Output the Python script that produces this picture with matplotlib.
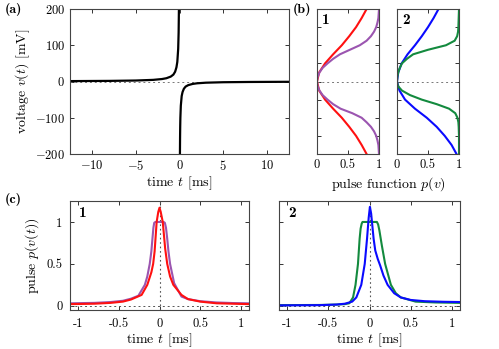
import matplotlib
matplotlib.use("Agg")
import matplotlib.pyplot as plt

plt.rcParams['font.family'] = 'serif'
plt.rcParams['font.serif'] = ['cmr10', 'DejaVu Serif']
plt.rcParams['mathtext.fontset'] = 'cm'
plt.rcParams['axes.unicode_minus'] = False
plt.rcParams['axes.formatter.use_mathtext'] = True
plt.rcParams['font.size'] = 9

# (a) voltage trace, two branches around the spike at t = 0
t_left = [-12.5, -8, -5, -3, -2, -1.5, -1, -0.7, -0.5, -0.35, -0.25, -0.15, -0.1, -0.07, -0.055]
v_left = [1.1, 1.7, 2.7, 4.5, 6.8, 9, 13.5, 19, 27, 39, 54, 90, 135, 193, 240]
t_right = [0.04, 0.05, 0.065, 0.08, 0.1, 0.15, 0.25, 0.35, 0.5, 0.7, 1, 1.5, 2, 3, 5, 8, 12.5]
v_right = [-250, -200, -154, -125, -100, -67, -40, -29, -20, -14, -10, -6.7, -5, -3.3, -2, -1.3, -0.8]

# (b) pulse functions p(v)
v_red = [-200, -175, -150, -125, -100, -75, -50, -25, 0, 25, 50, 75, 100, 125, 150, 175, 200]
p_red = [0.80, 0.72, 0.63, 0.52, 0.40, 0.26, 0.13, 0.035, 0, 0.035, 0.13, 0.26, 0.40, 0.52, 0.63, 0.72, 0.80]
v_purple = [-200, -187.5, -175, -162.5, -150, -137.5, -125, -112.5, -100, -87.5, -75, -62.5, -50, -37.5,
            -25, -12.5, 0, 12.5, 25, 37.5, 50, 62.5, 75, 87.5, 100, 112.5, 125, 137.5, 150, 162.5, 175,
            187.5, 200]
p_purple = [1.0, 0.995, 0.99, 0.975, 0.955, 0.92, 0.87, 0.80, 0.72, 0.57, 0.38, 0.26, 0.17, 0.09,
            0.04, 0.01, 0, 0.01, 0.04, 0.09, 0.17, 0.26, 0.37, 0.53, 0.69, 0.80, 0.87, 0.92, 0.955, 0.975,
            0.99, 0.995, 1.0]
v_blue = [-200, -175, -150, -125, -100, -75, -50, -25, 0, 25, 50, 75, 100, 125, 150, 175, 200]
p_blue = [0.96, 0.88, 0.77, 0.64, 0.48, 0.29, 0.13, 0.04, 0, 0.02, 0.075, 0.17, 0.29, 0.40, 0.50, 0.59, 0.67]
v_green = [-200, -150, -125, -112.5, -100, -87.5, -75, -62.5, -50, -37.5, -25, -12.5, 0, 12.5, 25,
           37.5, 50, 62.5, 75, 87.5, 100, 112.5, 125, 137.5, 150, 175, 200]
p_green = [1.0, 1.0, 0.995, 0.99, 0.975, 0.94, 0.84, 0.64, 0.40, 0.21, 0.08, 0.015, 0, 0.005, 0.02,
           0.045, 0.08, 0.16, 0.26, 0.50, 0.79, 0.93, 0.97, 0.985, 0.99, 0.995, 1.0]

# (c) pulse as function of time
t_red_c = [-1.1, -0.8, -0.6, -0.45, -0.35, -0.22, -0.15, -0.1, -0.078, -0.06, -0.035, -0.015, 0,
           0.015, 0.04, 0.07, 0.095, 0.13, 0.17, 0.27, 0.35, 0.5, 0.7, 0.9, 1.1]
p_red_c = [0.02, 0.025, 0.035, 0.05, 0.075, 0.13, 0.25, 0.40, 0.5, 0.65, 1.0, 1.12, 1.17,
           1.12, 1.0, 0.68, 0.5, 0.35, 0.25, 0.13, 0.08, 0.05, 0.03, 0.025, 0.02]
t_purple_c = [-1.1, -0.8, -0.6, -0.45, -0.35, -0.26, -0.18, -0.15, -0.12, -0.1, -0.085, -0.075, -0.065,
              -0.05, 0.05, 0.066, 0.08, 0.095, 0.11, 0.13, 0.18, 0.27, 0.35, 0.5, 0.7, 0.9, 1.1]
p_purple_c = [0.03, 0.035, 0.045, 0.06, 0.085, 0.12, 0.25, 0.35, 0.5, 0.65, 0.82, 0.93, 0.99,
              1.0, 1.0, 0.99, 0.93, 0.8, 0.65, 0.5, 0.27, 0.11, 0.08, 0.055, 0.04, 0.033, 0.03]
t_blue_c = [-1.1, -0.6, -0.4, -0.3, -0.21, -0.16, -0.1, -0.058, -0.03, -0.01, 0.005, 0.02, 0.03,
            0.05, 0.07, 0.1, 0.13, 0.17, 0.22, 0.3, 0.38, 0.5, 0.67, 0.9, 1.1]
p_blue_c = [0.005, 0.008, 0.015, 0.025, 0.05, 0.1, 0.25, 0.5, 0.8, 1.05, 1.18, 1.1, 1.0,
            0.8, 0.66, 0.56, 0.48, 0.36, 0.25, 0.15, 0.1, 0.07, 0.055, 0.048, 0.045]
t_green_c = [-1.1, -0.6, -0.4, -0.3, -0.245, -0.2, -0.17, -0.14, -0.12, -0.108, -0.095, -0.085,
             0.09, 0.105, 0.12, 0.15, 0.19, 0.26, 0.32, 0.38, 0.56, 0.8, 1.1]
p_green_c = [0.008, 0.01, 0.015, 0.02, 0.03, 0.1, 0.25, 0.5, 0.8, 0.92, 0.98, 1.0,
             1.0, 0.97, 0.9, 0.72, 0.5, 0.25, 0.15, 0.1, 0.05, 0.04, 0.035]

RED = '#ff1010'
PURPLE = '#9b55b0'
BLUE = '#0a0aff'
GREEN = '#138a3e'
W, H = 499, 349
BOLD = ['cmb10', 'DejaVu Serif']


def box(l, t, r, b):
    return [l / W, 1 - b / H, (r - l) / W, (b - t) / H]


def style(ax, pad=3.5):
    ax.tick_params(direction='in', top=True, right=True, length=3, width=0.7,
                   colors='#333333', labelcolor='black', labelsize=9, pad=pad)
    for s in ax.spines.values():
        s.set_color('#444444')
        s.set_linewidth(0.8)


fig = plt.figure(figsize=(W / 100, H / 100), dpi=100)

# panel (a)
ax = fig.add_axes(box(70, 9, 289, 154))
ax.axhline(0, color='#777777', ls=(0, (2, 3)), lw=0.7)
ax.plot(t_left, v_left, color='black', lw=1.6)
ax.plot(t_right, v_right, color='black', lw=1.6)
ax.set_xlim(-12.5, 12.5)
ax.set_ylim(-200, 200)
ax.set_xticks([-10, -5, 0, 5, 10])
ax.set_yticks([-200, -100, 0, 100, 200])
ax.set_xlabel('time $t$ [ms]', fontsize=10, labelpad=1)
ax.set_ylabel('voltage $v(t)$ [mV]', fontsize=10, labelpad=2)
style(ax)

# panel (b)
for i, (l, r) in enumerate([(317, 379), (397, 459)]):
    ax = fig.add_axes(box(l, 9, r, 154))
    ax.axhline(0, color='#777777', ls=(0, (2, 3)), lw=0.7)
    if i == 0:
        ax.plot(p_red, v_red, color=RED, lw=1.5)
        ax.plot(p_purple, v_purple, color=PURPLE, lw=1.5)
    else:
        ax.plot(p_blue, v_blue, color=BLUE, lw=1.5)
        ax.plot(p_green, v_green, color=GREEN, lw=1.5)
    ax.set_xlim(0, 1)
    ax.set_ylim(-200, 200)
    ax.set_xticks([0, 0.5, 1])
    ax.set_xticklabels(['0', '0.5', '1'])
    ax.set_yticks([-200, -150, -100, -50, 0, 50, 100, 150, 200])
    ax.set_yticklabels([])
    ax.text(0.08, 0.97, str(i + 1), transform=ax.transAxes, family=BOLD,
            ha='left', va='top', fontsize=11)
    style(ax)
fig.text(388 / W, 1 - 184 / H, 'pulse function $p(v)$', ha='center', va='center', fontsize=10)

# panel (c)
for i, (l, r) in enumerate([(70, 249), (279, 460)]):
    ax = fig.add_axes(box(l, 201, r, 310))
    ax.axhline(0, color='#555555', ls=(0, (2, 3)), lw=0.7)
    ax.axvline(0, color='#555555', ls=(0, (1.5, 2.5)), lw=0.8)
    if i == 0:
        ax.plot(t_purple_c, p_purple_c, color=PURPLE, lw=1.5)
        ax.plot(t_red_c, p_red_c, color=RED, lw=1.5)
    else:
        ax.plot(t_green_c, p_green_c, color=GREEN, lw=1.5)
        ax.plot(t_blue_c, p_blue_c, color=BLUE, lw=1.5)
    ax.set_xlim(-1.1, 1.1)
    ax.set_ylim(-0.05, 1.25)
    ax.set_xticks([-1, -0.5, 0, 0.5, 1])
    ax.set_xticklabels(['-1', '-0.5', '0', '0.5', '1'])
    ax.set_yticks([0, 0.5, 1])
    if i == 0:
        ax.set_yticklabels(['0', '0.5', '1'])
        ax.set_ylabel('pulse $p(v(t))$', fontsize=10, labelpad=4)
    else:
        ax.set_yticklabels([])
    ax.set_xlabel('time $t$ [ms]', fontsize=10, labelpad=1.5)
    ax.text(0.05, 0.95, str(i + 1), transform=ax.transAxes, family=BOLD,
            ha='left', va='top', fontsize=11)
    style(ax, pad=5.5)

fig.text(5 / W, 1 - 3 / H, '(a)', family=BOLD, ha='left', va='top', fontsize=10)
fig.text(293 / W, 1 - 3 / H, '(b)', family=BOLD, ha='left', va='top', fontsize=10)
fig.text(5 / W, 1 - 193 / H, '(c)', family=BOLD, ha='left', va='top', fontsize=10)

fig.savefig('out.png', dpi=100)
